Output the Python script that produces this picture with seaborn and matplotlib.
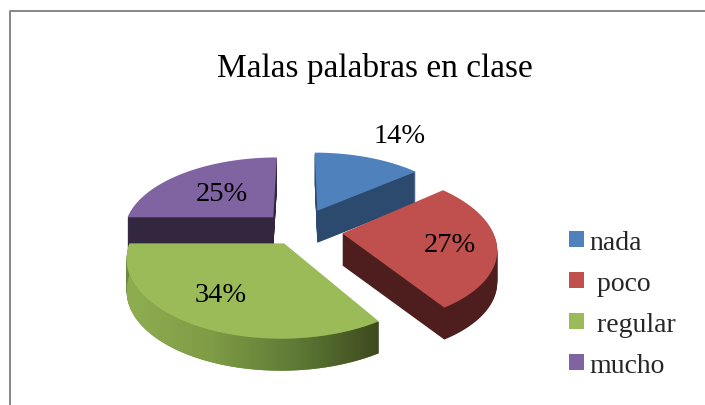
import numpy as np
import matplotlib
matplotlib.use("Agg")
import matplotlib.pyplot as plt
import seaborn as sns
from matplotlib.lines import Line2D
from matplotlib.path import Path
from matplotlib.transforms import Affine2D, Transform

# =========================
# DATA
# =========================
TITLE = "Malas palabras en clase"
categories = ["nada", " poco", " regular", "mucho"]
values = [14, 27, 34, 25]

# =========================
# STYLE
# =========================
top_colors = sns.color_palette(["#4F81BD", "#C0504D", "#9BBB59", "#8064A2"])
side_colors = sns.color_palette(["#2C4A6E", "#4E1E1E", "#6B8A3C", "#33263F"])
explode = [0.30, 0.29, 0.20, 0.25]
label_xy = [(400, 137), (450, 246), (221, 296), (222, 195)]
# draw order: back slices first
order = {0: 1, 3: 3, 1: 5, 2: 7}
DEPTH = 32

sns.set_theme(style="white")
plt.rcParams["font.family"] = ["Liberation Serif", "DejaVu Serif"]

# plane to pixel projection, the pie is tilted with a bit of perspective
CX, CY, RX, RY, P = 299, 231, 150, 74, 0.17


class Projection(Transform):
    input_dims = 2
    output_dims = 2
    has_inverse = False

    def __init__(self, drop=0):
        super().__init__()
        self.drop = drop

    def transform_non_affine(self, xy):
        xy = np.asarray(xy)
        s = 1 / (1 + P * xy[:, 1])
        return np.c_[CX + RX * xy[:, 0] * s, CY - RY * xy[:, 1] * s + self.drop]

    def transform_path_non_affine(self, path):
        # flatten the curves first, scaled up so the arc stays smooth
        big = path.transformed(Affine2D().scale(1000))
        poly = big.to_polygons(closed_only=False)[0] / 1000
        return Path(self.transform_non_affine(poly))


fig = plt.figure(figsize=(7.05, 4.06), dpi=100)
ax = fig.add_axes([0, 0, 1, 1])

# =========================
# PIE: side layers, then top
# =========================
for drop in range(DEPTH, 0, -1):
    wedges, _ = ax.pie(values, colors=side_colors, explode=explode,
                       startangle=90, counterclock=False)
    for i, w in enumerate(wedges):
        w.set_transform(Projection(drop) + ax.transData)
        w.set_zorder(order[i])
        w.set_linewidth(0)

wedges, _, pct = ax.pie(values, colors=top_colors, explode=explode,
                        startangle=90, counterclock=False,
                        autopct="%.0f%%")
for i, w in enumerate(wedges):
    w.set_transform(Projection() + ax.transData)
    w.set_zorder(order[i] + 1)
    w.set_linewidth(0)
    pct[i].set_position(label_xy[i])
    pct[i].set_fontsize(20.5)
    pct[i].set_color("black")
    pct[i].set_zorder(20)

ax.set_aspect("auto")
ax.set_xlim(0, 705)
ax.set_ylim(406, 0)
ax.set_axis_off()

# gradient on the round side of the green slice
start = np.deg2rad(sum(values[:2]) * 3.6)
stop = np.deg2rad(sum(values[:3]) * 3.6)
mid = (start + stop) / 2
theta = np.linspace(start, stop, 120)
arc = np.c_[explode[2] * np.sin(mid) + np.sin(theta),
            explode[2] * np.cos(mid) + np.cos(theta)]
upper = Projection(0).transform_non_affine(arc)
lower = Projection(DEPTH).transform_non_affine(arc)
outline = Path(np.r_[upper, lower[::-1], upper[:1]])
shade = sns.blend_palette(["#8FAD50", "#7F9C46", "#5E7A35", "#3E4A1E"], n_colors=200)
img = np.array(shade)[None, :, :]
x0, x1 = upper[:, 0].min(), upper[:, 0].max()
im = ax.imshow(img, extent=(x0, x1, 406, 0), aspect="auto", zorder=7.5)
im.set_clip_path(outline, ax.transData)
ax.set_xlim(0, 705)
ax.set_ylim(406, 0)

# =========================
# TITLE, LEGEND, BORDER
# =========================
ax.text(375, 69, TITLE, ha="center", va="center", fontsize=24, color="black")

ax.legend(wedges, categories, loc="upper left", bbox_to_anchor=(569, 231),
          bbox_transform=ax.transData, frameon=False, fontsize=20,
          handlelength=0.54, handleheight=0.54, handletextpad=0.2,
          labelspacing=0.575, borderpad=0, borderaxespad=0)

fig.add_artist(Line2D([9.5 / 705, 9.5 / 705, 1], [0, 1 - 11.5 / 406, 1 - 11.5 / 406],
                      color="#868686", lw=1.4))

fig.savefig("out.png", dpi=100)
